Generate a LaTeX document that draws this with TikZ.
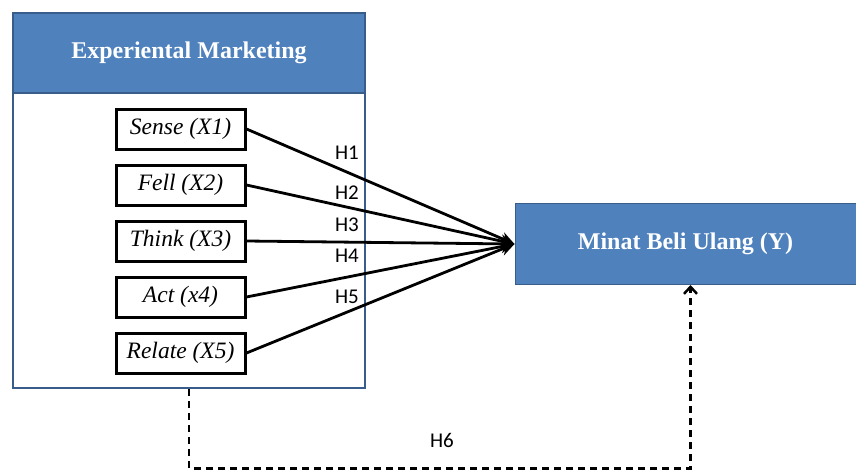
\documentclass[tikz,border=0pt]{standalone}
\usepackage{fontspec}
\setmainfont{Liberation Serif}
\newfontfamily\hfont{Carlito}
\usetikzlibrary{positioning,arrows.meta,calc}
\definecolor{hdblue}{HTML}{4F81BD}
\definecolor{rimblue}{HTML}{385D8A}
\tikzstyle{dim}=[draw, line width=3pt, minimum width=129pt, minimum height=40pt, inner sep=0pt, font=\fontsize{23.5}{27}\selectfont\itshape]
\tikzstyle{bluebox}=[fill=hdblue, draw=rimblue, text=white, inner sep=0pt, font=\fontsize{24}{28}\selectfont\bfseries]
\tikzstyle{hyp}=[font=\hfont\fontsize{21}{24}\selectfont, inner sep=0pt]

\begin{document}
\begin{tikzpicture}[x=1pt, y=-1pt, node distance=13pt, >={Stealth[length=14pt,width=13pt]}]
	\useasboundingbox (0,0) rectangle (856,469);
	\node[draw=rimblue, line width=2.5pt, minimum width=352pt, minimum height=375pt] (outer) at (189,200.5) {};
	\node[bluebox, line width=2.5pt, minimum width=352pt, minimum height=80pt, anchor=north] (head) at (outer.north) {Experiental Marketing};
	\node[dim] (sense) at (180.5,129) {Sense (X1)};
	\node[dim, below=of sense] (fell) {Fell (X2)};
	\node[dim, below=of fell] (think) {Think (X3)};
	\node[dim, below=of think] (act) {Act (x4)};
	\node[dim, below=of act] (relate) {Relate (X5)};
	\node[bluebox, line width=1pt, minimum width=341pt, minimum height=81pt] (minat) at (685.5,244) {Minat Beli Ulang (Y)};
	\coordinate (tip) at (minat.west);
	\node[hyp] (h1) at (347,153) {H1};
	\node[hyp] (h2) at (347,193) {H2};
	\node[hyp] (h3) at (347,225) {H3};
	\node[hyp] (h4) at (347,256) {H4};
	\node[hyp] (h5) at (347,297) {H5};
	\node[hyp] (h6) at (442,440) {H6};
	\path[->, line width=2.8pt]
	(sense.east) edge (tip)
	(fell.east) edge (tip)
	(think.east) edge (tip)
	(act.east) edge (tip)
	(relate.east) edge (tip);
	\draw[line width=2.5pt, dash pattern=on 7pt off 5pt, -{Straight Barb[length=7pt,width=13pt]}]
	(outer.south) -- ++(0,79) -| ($(minat.south)+(5,0)$);
\end{tikzpicture}
\end{document}
